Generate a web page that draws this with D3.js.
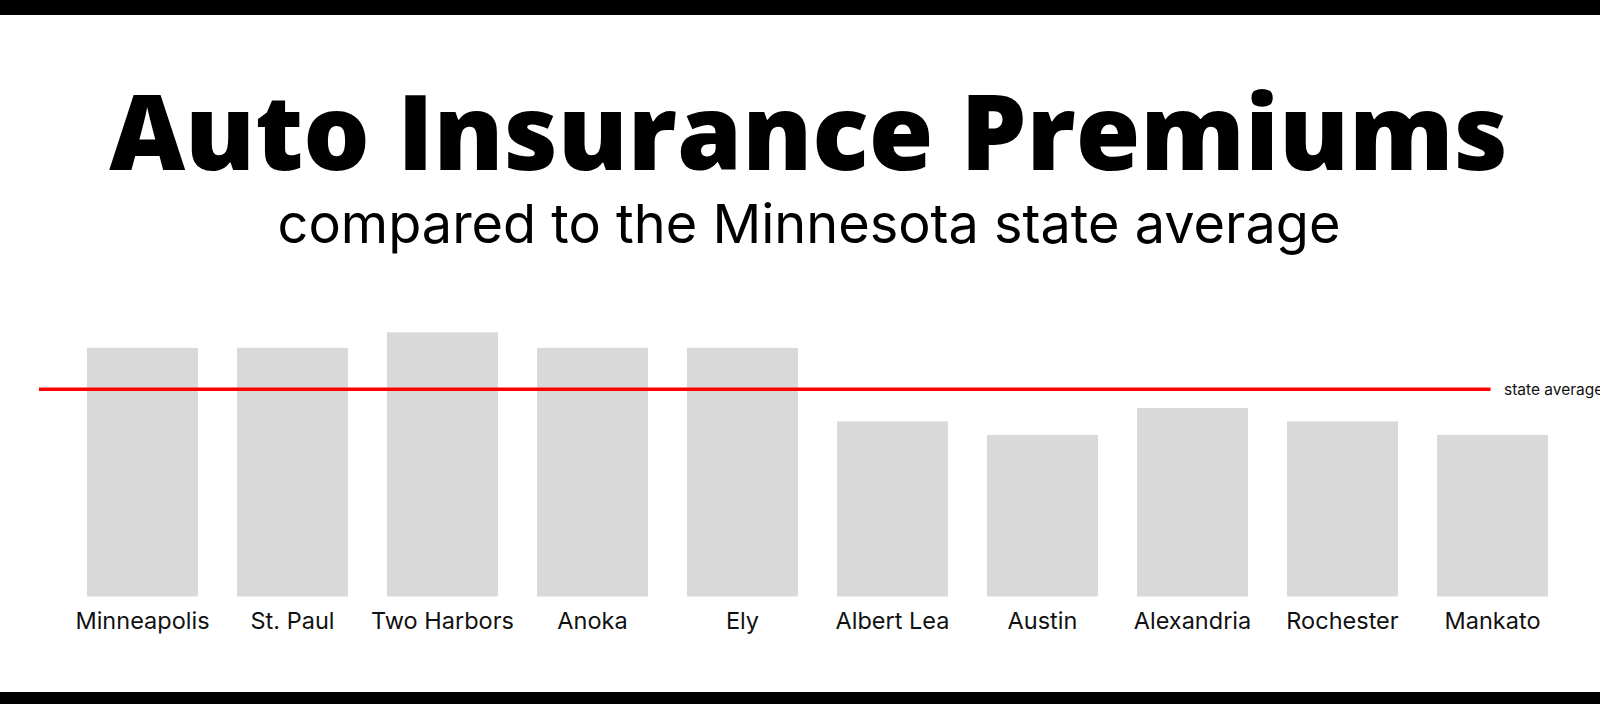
<!DOCTYPE html>
<html>
<head>
<meta charset="utf-8">
<script src="https://cdn.jsdelivr.net/npm/d3@7"></script>
<style>
  html, body { margin: 0; padding: 0; background: #fff; }
  svg { display: block; }
</style>
</head>
<body>
<svg id="chart" width="1600" height="704"></svg>
<script>
// Data (values as % of the Minnesota state average)
const cities = ["Minneapolis", "St. Paul", "Two Harbors", "Anoka", "Ely",
                "Albert Lea", "Austin", "Alexandria", "Rochester", "Mankato"];
const premiumIndex = [120, 120, 127.5, 120, 120, 84.5, 78, 91, 84.5, 78];
const stateAverage = [100];
const titleText = "Auto Insurance Premiums";
const subtitleText = "compared to the Minnesota state average";
const averageLabel = "state average";

const W = 1600, H = 704;
const svg = d3.select("#chart");

// frame bands
svg.append("rect").attr("x", 0).attr("y", 0).attr("width", W).attr("height", 15).attr("fill", "#000");
svg.append("rect").attr("x", 0).attr("y", 692).attr("width", W).attr("height", 12).attr("fill", "#000");

// scales
const x = d3.scaleBand().domain(cities).range([67.5, 1567.5]).paddingInner(0.26).paddingOuter(0.13);
const y = d3.scaleLinear().domain([0, 100]).range([596.5, 389.3]);

// bars
svg.append("g").selectAll("rect").data(cities).join("rect")
  .attr("x", d => x(d))
  .attr("width", x.bandwidth())
  .attr("y", (d, i) => y(premiumIndex[i]))
  .attr("height", (d, i) => y(0) - y(premiumIndex[i]))
  .attr("fill", "#d9d9d9");

// average line
svg.append("g").selectAll("line").data(stateAverage).join("line")
  .attr("x1", 39).attr("x2", 1490.5)
  .attr("y1", d => y(d)).attr("y2", d => y(d))
  .attr("stroke", "#ff0000").attr("stroke-width", 3.5);

svg.append("g").selectAll("text").data(stateAverage).join("text")
  .attr("x", 1504).attr("y", d => y(d) + 5.5)
  .attr("font-family", "Inter, 'Open Sans', sans-serif")
  .attr("font-size", 15.5)
  .attr("fill", "#111")
  .text(averageLabel);

// category labels via axis
const xAxis = svg.append("g")
  .attr("transform", "translate(0,596.5)")
  .call(d3.axisBottom(x).tickSize(0));
xAxis.select(".domain").remove();
xAxis.selectAll("text")
  .attr("y", 32).attr("dy", 0)
  .attr("font-family", "Inter, 'Open Sans', sans-serif")
  .attr("font-size", 23.5)
  .attr("fill", "#111");

// titles
function fit(sel, targetW) {
  const w = sel.node().getComputedTextLength();
  const fs = parseFloat(sel.attr("font-size"));
  sel.attr("font-size", fs * targetW / w);
}
const title = svg.append("text")
  .attr("x", 808.5).attr("y", 170)
  .attr("text-anchor", "middle")
  .attr("font-family", "'Open Sans', sans-serif")
  .attr("font-weight", 800)
  .attr("font-size", 110)
  .attr("fill", "#000")
  .text(titleText);
fit(title, 1399);

const sub = svg.append("text")
  .attr("x", 809).attr("y", 243)
  .attr("text-anchor", "middle")
  .attr("font-family", "Inter, 'Open Sans', sans-serif")
  .attr("font-weight", 400)
  .attr("font-size", 50)
  .attr("fill", "#000")
  .text(subtitleText);
fit(sub, 1063);
</script>
</body>
</html>
